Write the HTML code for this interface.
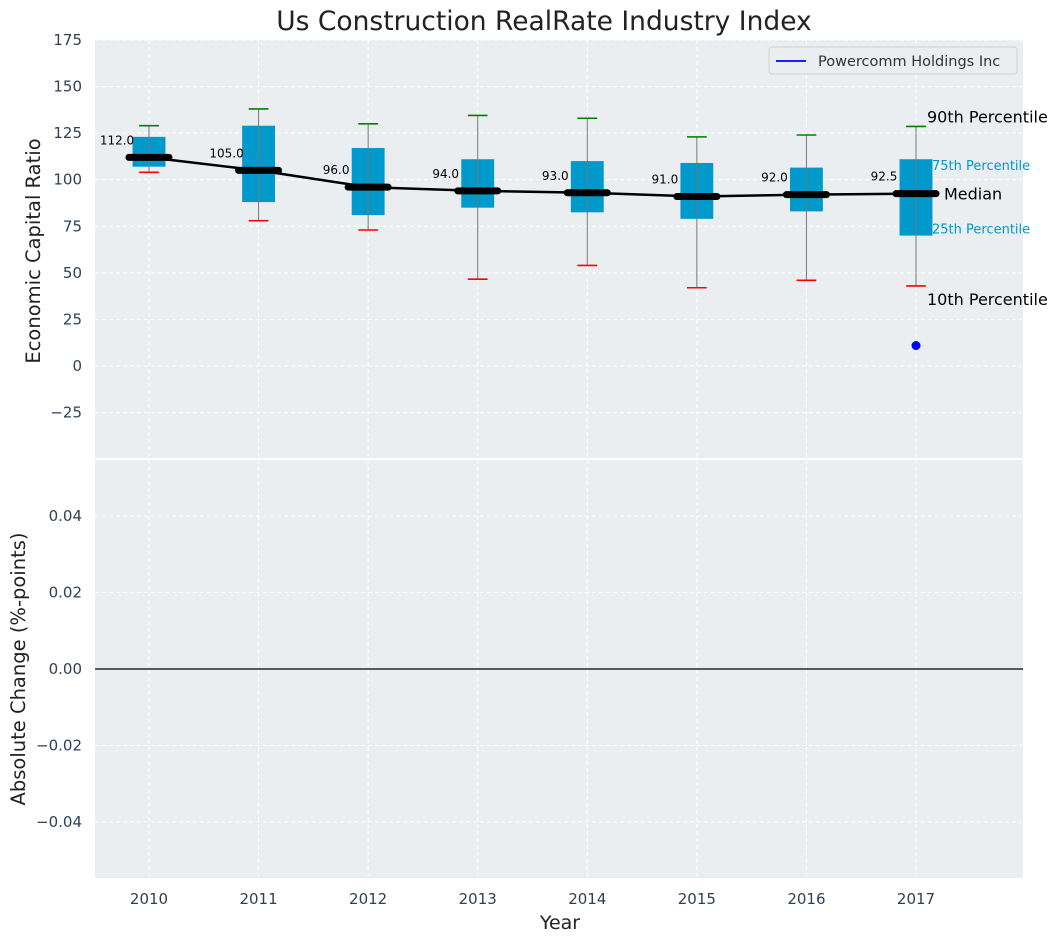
<!DOCTYPE html>
<html><head><meta charset="utf-8"><style>
body{margin:0;background:#fff;}
svg text{font-family:"DejaVu Sans","Liberation Sans",sans-serif;}
</style></head><body>
<svg id="c" width="1062" height="942" xmlns="http://www.w3.org/2000/svg"></svg>
<script>
const years=[2010,2011,2012,2013,2014,2015,2016,2017];
const p10=[104,78,73,46.6,54,42,46,43];
const q1=[107,88,81,85,82.5,79,83,70];
const medians=[112,105,96,94,93,91,92,92.5];
const q3=[123,129,117,111,110,109,106.5,111];
const p90=[129,138,130,134.5,133,123,124,128.6];
const companyYear=[2017];
const companyVal=[11];
const topTicks=[-25,0,25,50,75,100,125,150,175];
const botTicks=[-0.04,-0.02,0,0.02,0.04];
const botTickLabels=["\u22120.04","\u22120.02","0.00","0.02","0.04"];

const NS="http://www.w3.org/2000/svg";
const svg=document.getElementById('c');
const L=95,R=1023,T1=40,B1=459,T2=459,B2=878;
const xs=v=>149+(v-2010)*(916-149)/7;
const yTop=v=>366-(v)*(366-40)/175;
const yBot=v=>669-v*(669-516)/0.04;
function el(tag,attrs,parent,text){const e=document.createElementNS(NS,tag);for(const k in attrs)e.setAttribute(k,attrs[k]);if(text!==undefined)e.textContent=text;(parent||svg).appendChild(e);return e;}

let g=el('rect',{x:L,y:T1,width:R-L,height:B1-T1,fill:'#eaeef0'});

g=el('rect',{x:L,y:T2,width:R-L,height:B2-T2,fill:'#eaeef0'});

el('line',{x1:L,x2:R,y1:459,y2:459,stroke:'#fff','stroke-width':2});

years.forEach(y=>{
  el('line',{x1:xs(y),x2:xs(y),y1:T1,y2:B2,stroke:'#fff','stroke-dasharray':'4,3','stroke-width':1});
});
topTicks.forEach(t=>{
  el('line',{x1:L,x2:R,y1:yTop(t),y2:yTop(t),stroke:'#fff','stroke-dasharray':'4,3'});
  const tx=el('text',{x:82,y:yTop(t)+5,'text-anchor':'end','font-size':15,fill:'#2e4057'},svg,t<0?'\u2212'+(-t):String(t));
  
});
botTicks.forEach((t,i)=>{
  el('line',{x1:L,x2:R,y1:yBot(t),y2:yBot(t),stroke:'#fff','stroke-dasharray':'4,3'});
  const tx=el('text',{x:82,y:yBot(t)+5,'text-anchor':'end','font-size':15,fill:'#2e4057'},svg,botTickLabels[i]);
  
});
years.forEach(y=>{
  const tx=el('text',{x:xs(y),y:904,'text-anchor':'middle','font-size':15,fill:'#2e4057'},svg,String(y));
  
});
el('line',{x1:L,x2:R,y1:yBot(0),y2:yBot(0),stroke:'#000','stroke-width':1.2});

const bw=0.3*(xs(1)-xs(0)),cw=0.18*(xs(1)-xs(0)),mw=0.42*(xs(1)-xs(0));
years.forEach((y,i)=>{
  const x=xs(y);
  const b=el('rect',{x:x-bw/2,y:yTop(q3[i]),width:bw,height:yTop(q1[i])-yTop(q3[i]),fill:'#0099cc'});
  
  el('line',{x1:x,x2:x,y1:yTop(p10[i]),y2:yTop(p90[i]),stroke:'#777','stroke-width':1});
  el('line',{x1:x-cw/2,x2:x+cw/2,y1:yTop(p90[i]),y2:yTop(p90[i]),stroke:'green','stroke-width':1.6});
  el('line',{x1:x-cw/2,x2:x+cw/2,y1:yTop(p10[i]),y2:yTop(p10[i]),stroke:'red','stroke-width':1.6});
});
const pl=el('polyline',{points:years.map((y,i)=>xs(y)+','+yTop(medians[i])).join(' '),fill:'none',stroke:'#000','stroke-width':2.5});

years.forEach((y,i)=>{
  const x=xs(y),yy=yTop(medians[i]);
  const m=el('line',{x1:x-mw/2+3,x2:x+mw/2-3,y1:yy,y2:yy,stroke:'#000','stroke-width':7,'stroke-linecap':'round'});
  
  const t=el('text',{x:x-32,y:yy-13,'text-anchor':'middle','font-size':12,fill:'#000'},svg,medians[i].toFixed(1));
  
});
companyYear.forEach((y,i)=>{
  const d=el('circle',{cx:xs(y),cy:yTop(companyVal[i]),r:4.5,fill:'blue'});
  
});
const lastI=years.length-1,lx=xs(years[lastI]);
[['90th Percentile',p90[lastI],11,-4,16,'#000'],['75th Percentile',q3[lastI],16,11,13,'#0099cc'],['Median',medians[lastI],28,6,16,'#000'],['25th Percentile',q1[lastI],16,-2,13,'#0099cc'],['10th Percentile',p10[lastI],11,19,16,'#000']].forEach(a=>{
  const t=el('text',{x:lx+a[2],y:yTop(a[1])+a[3],'font-size':a[4],fill:a[5]},svg,a[0]);
  
});
const lg=el('g',{});

el('rect',{x:769,y:47,width:248,height:27,rx:3,fill:'#eaeef0',stroke:'#d0d0d0'},lg);
el('line',{x1:776,x2:806,y1:61,y2:61,stroke:'blue','stroke-width':1.8},lg);
el('text',{x:818,y:66,'font-size':14.5,fill:'#333'},lg,'Powercomm Holdings Inc');
let t=el('text',{x:544,y:30,'text-anchor':'middle','font-size':26.5,fill:'#222'},svg,'Us Construction RealRate Industry Index');

t=el('text',{x:560,y:929,'text-anchor':'middle','font-size':19,fill:'#222'},svg,'Year');

t=el('text',{x:40,y:251,'text-anchor':'middle','font-size':19.5,fill:'#222',transform:'rotate(-90 40 251)'},svg,'Economic Capital Ratio');

t=el('text',{x:25,y:669,'text-anchor':'middle','font-size':19.5,fill:'#222',transform:'rotate(-90 25 669)'},svg,'Absolute Change (%-points)');

</script>
</body></html>
